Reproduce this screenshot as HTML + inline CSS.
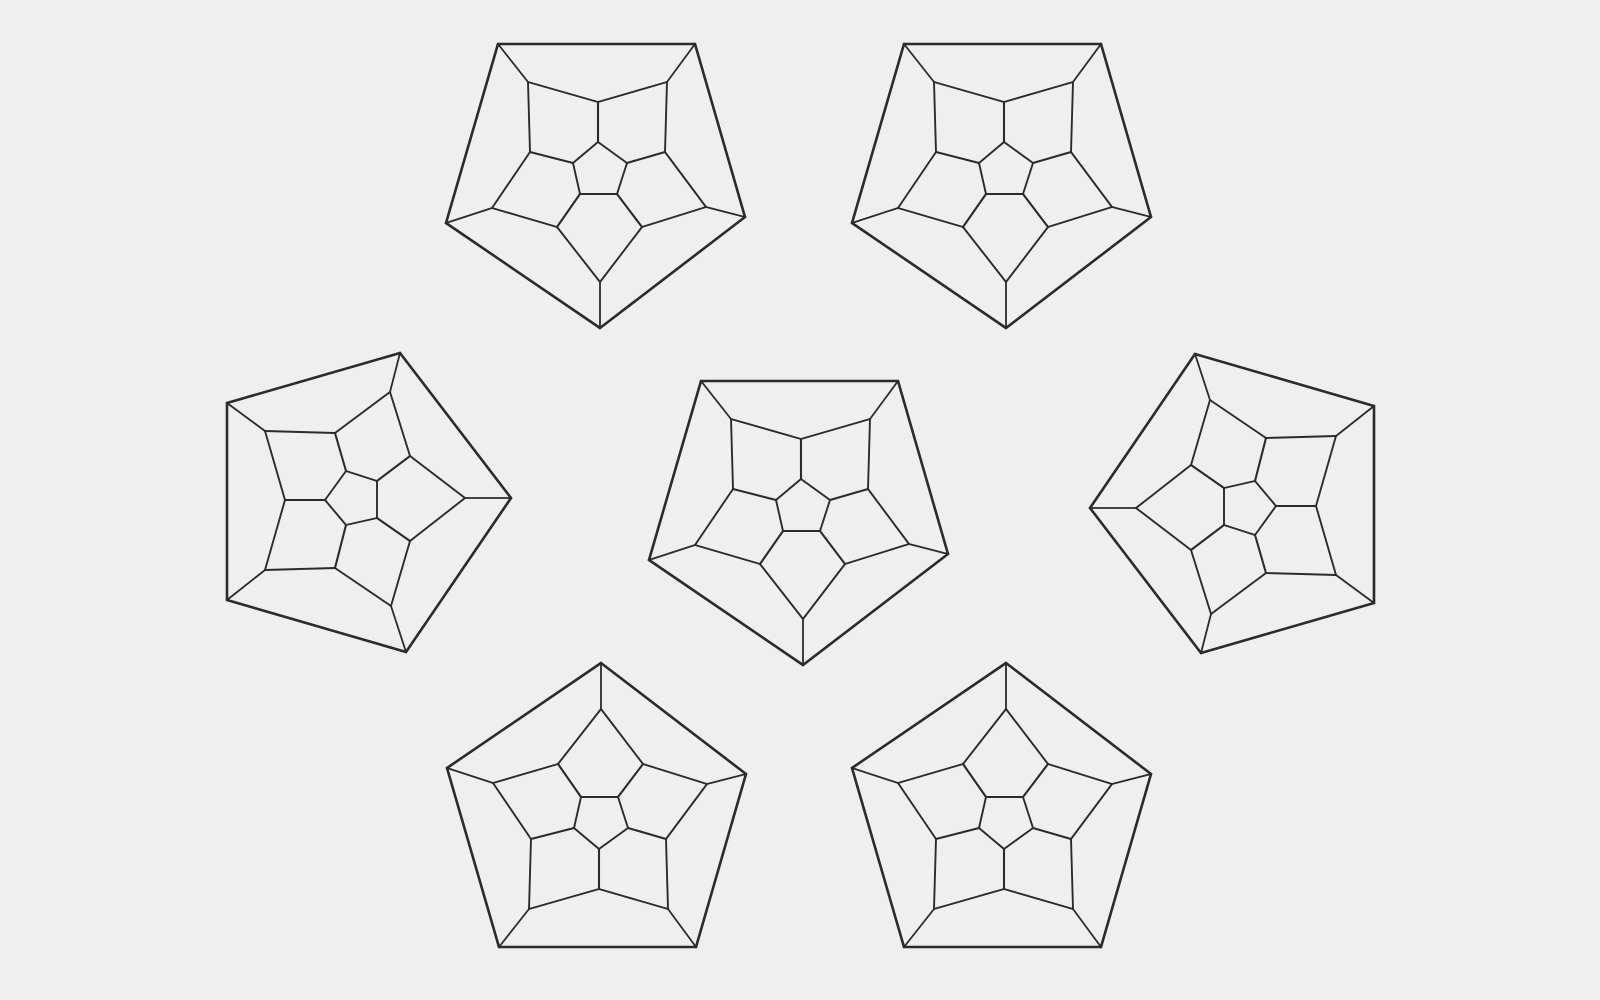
<!DOCTYPE html>
<html><head><meta charset="utf-8"><style>
html,body{margin:0;padding:0;background:#efefef;}
svg{display:block;}
</style></head><body>
<svg id="art" width="1600" height="1000" viewBox="0 0 1600 1000" xmlns="http://www.w3.org/2000/svg">
<rect x="0" y="0" width="1600" height="1000" fill="#efefef"/>
</svg>
<script>
// Template vertex offsets (apex-down orientation), relative to diagram centre
const outerX = [-99, 98, 148, 3, -151];
const outerY = [-127, -127, 46, 157, 52];
const spokeX = [-69, 70, 109, 3, -105];
const spokeY = [-89, -89, 36, 111, 37];
const midX = [1, 68, 45, -40, -67];
const midY = [-69, -19, 56, 56, -19];
const innerX = [1, 30, 20, -17, -24];
const innerY = [-29, -8, 23, 23, -8];
// Diagram placements
const diagramNames = ['top-left','top-right','center','left','right','bottom-left','bottom-right'];
const centerX = [597, 1003, 800, 354, 1247, 598, 1003];
const centerY = [171, 171, 508, 501, 505, 820, 820];
const orient = ['down','down','down','right','left','up','up'];

const svg = document.getElementById('art');
const NS = 'http://www.w3.org/2000/svg';
function tf(o, x, y){
  if(o==='right') return [y, -x];
  if(o==='left') return [-y, x];
  if(o==='up') return [x, -y];
  return [x, y];
}
function line(g, p, q, w, name){
  const l = document.createElementNS(NS,'line');
  l.setAttribute('x1',p[0]);l.setAttribute('y1',p[1]);
  l.setAttribute('x2',q[0]);l.setAttribute('y2',q[1]);
  l.setAttribute('stroke','#2b2b2b');
  l.setAttribute('stroke-width',w);
  l.setAttribute('stroke-linecap','round');
  
  
  g.appendChild(l);
}
diagramNames.forEach((nm, d)=>{
  const g = document.createElementNS(NS,'g');
  
  
  svg.appendChild(g);
  const P = (xs, ys, i)=>{ const t = tf(orient[d], xs[i], ys[i]); return [centerX[d]+t[0], centerY[d]+t[1]]; };
  for(let i=0;i<5;i++){
    const j=(i+1)%5;
    line(g, P(outerX,outerY,i), P(outerX,outerY,j), 2.6, 'outer-edge');
    line(g, P(outerX,outerY,i), P(spokeX,spokeY,i), 1.8, 'outer-spoke');
    line(g, P(spokeX,spokeY,i), P(midX,midY,i), 1.9, 'ring-edge');
    line(g, P(midX,midY,i), P(spokeX,spokeY,j), 1.9, 'ring-edge');
    line(g, P(midX,midY,i), P(innerX,innerY,i), 2.1, 'inner-spoke');
    line(g, P(innerX,innerY,i), P(innerX,innerY,j), 1.9, 'inner-edge');
  }
});
</script>
</body></html>
